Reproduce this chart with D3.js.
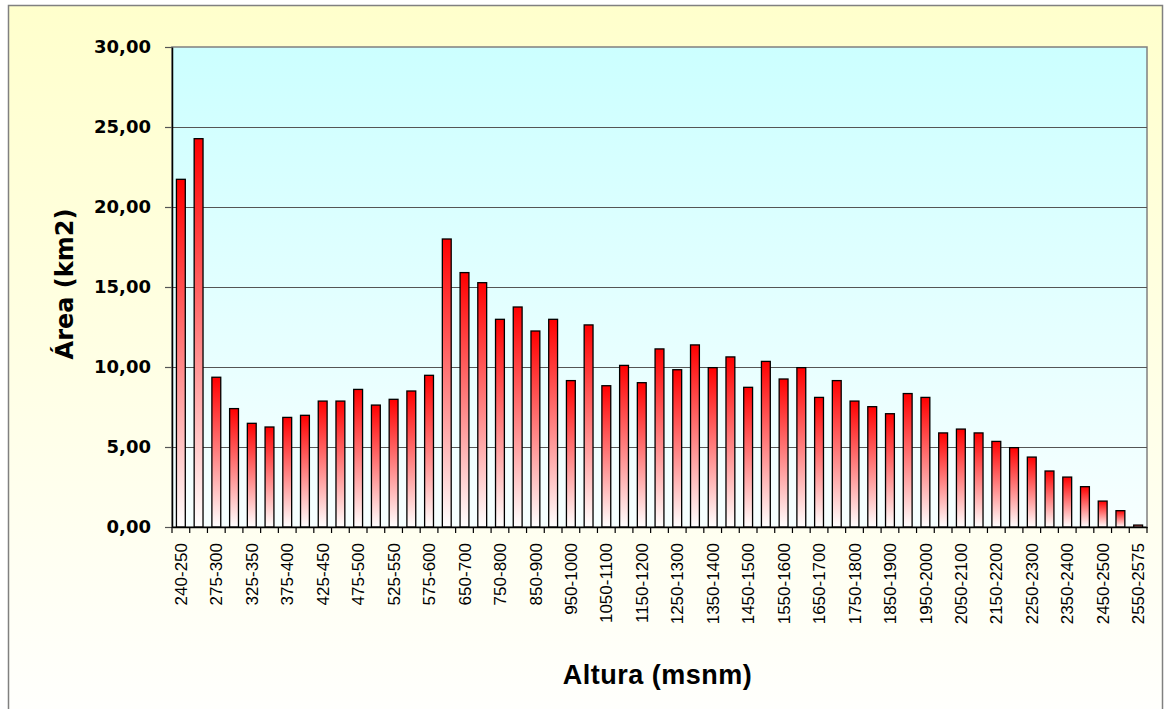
<!DOCTYPE html>
<html>
<head>
<meta charset="utf-8">
<script src="https://cdn.jsdelivr.net/npm/d3@7"></script>
<style>
  html, body { margin: 0; padding: 0; background: #ffffff; }
  svg { display: block; }
</style>
</head>
<body>
<svg id="chart" width="1166" height="709"></svg>
<script>
// ---- data ----
const categories = [
  "240-250","250-275","275-300","300-325","325-350","350-375","375-400","400-425",
  "425-450","450-475","475-500","500-525","525-550","550-575","575-600","600-650",
  "650-700","700-750","750-800","800-850","850-900","900-950","950-1000","1000-1050",
  "1050-1100","1100-1150","1150-1200","1200-1250","1250-1300","1300-1350","1350-1400",
  "1400-1450","1450-1500","1500-1550","1550-1600","1600-1650","1650-1700","1700-1750",
  "1750-1800","1800-1850","1850-1900","1900-1950","1950-2000","2000-2050","2050-2100",
  "2100-2150","2150-2200","2200-2250","2250-2300","2300-2350","2350-2400","2400-2450",
  "2450-2500","2500-2550","2550-2575"
];
const areaValues = [
  21.73, 24.27, 9.36, 7.40, 6.48, 6.25, 6.85, 6.98,
  7.87, 7.87, 8.60, 7.62, 7.98, 8.50, 9.48, 18.00,
  15.90, 15.27, 12.98, 13.75, 12.25, 12.98, 9.15, 12.63,
  8.83, 10.10, 9.02, 11.13, 9.83, 11.38, 9.96,
  10.63, 8.73, 10.35, 9.25, 9.96, 8.10, 9.15,
  7.87, 7.52, 7.08, 8.34, 8.10, 5.88, 6.12,
  5.88, 5.35, 4.96, 4.37, 3.50, 3.12, 2.52,
  1.62, 1.02, 0.12
];
const yTicks = [0, 5, 10, 15, 20, 25, 30];
const yTitle = "Área (km2)";
const xTitle = "Altura (msnm)";

// ---- layout ----
const svg = d3.select("#chart");
const plot = { left: 172, right: 1147, top: 47, bottom: 527 };

const defs = svg.append("defs");
const gOuter = defs.append("linearGradient").attr("id", "gOuter")
  .attr("x1", 0).attr("y1", 0).attr("x2", 0).attr("y2", 1);
gOuter.append("stop").attr("offset", "0%").attr("stop-color", "#FFFFCC");
gOuter.append("stop").attr("offset", "100%").attr("stop-color", "#FFFFFF");

const gPlot = defs.append("linearGradient").attr("id", "gPlot")
  .attr("x1", 0).attr("y1", 0).attr("x2", 0).attr("y2", 1);
gPlot.append("stop").attr("offset", "0%").attr("stop-color", "#CCFFFF");
gPlot.append("stop").attr("offset", "100%").attr("stop-color", "#F7FFFF");

const gBar = defs.append("linearGradient").attr("id", "gBar")
  .attr("x1", 0).attr("y1", 0).attr("x2", 0).attr("y2", 1);
gBar.append("stop").attr("offset", "0%").attr("stop-color", "#FF0000");
gBar.append("stop").attr("offset", "100%").attr("stop-color", "#FFFFFF");

// outer chart area
svg.append("rect")
  .attr("x", 8.5).attr("y", 5.5).attr("width", 1154).attr("height", 740)
  .attr("fill", "url(#gOuter)").attr("stroke", "#808080").attr("stroke-width", 1.5);

// plot area
svg.append("rect")
  .attr("x", plot.left).attr("y", plot.top)
  .attr("width", plot.right - plot.left).attr("height", plot.bottom - plot.top)
  .attr("fill", "url(#gPlot)").attr("stroke", "#808080").attr("stroke-width", 1.5);

// scales
const slot = d3.scaleBand().domain(categories).range([plot.left, plot.right]).padding(0);
const x = d3.scaleBand().domain(categories).range([plot.left, plot.right])
  .paddingInner(0.5).paddingOuter(0.25);
const y = d3.scaleLinear().domain([0, 30]).range([plot.bottom, plot.top]);

// gridlines
svg.append("g").selectAll("line")
  .data(yTicks.filter(t => t > 0 && t < 30))
  .join("line")
  .attr("x1", plot.left).attr("x2", plot.right)
  .attr("y1", d => Math.round(y(d)) + 0.5).attr("y2", d => Math.round(y(d)) + 0.5)
  .attr("stroke", "#555555").attr("stroke-width", 1.2);

// bars
svg.append("g").selectAll("rect")
  .data(categories.map((c, i) => ({ c, v: areaValues[i] })))
  .join("rect")
  .attr("x", d => x(d.c))
  .attr("y", d => y(d.v))
  .attr("width", x.bandwidth())
  .attr("height", d => y(0) - y(d.v))
  .attr("fill", "url(#gBar)")
  .attr("stroke", "#000000").attr("stroke-width", 1.3);

// y axis
const fmt = d => d3.format(".2f")(d).replace(".", ",");
const yAxis = svg.append("g")
  .attr("transform", `translate(${plot.left},0)`)
  .call(d3.axisLeft(y).tickValues(yTicks).tickFormat(fmt).tickSize(7).tickSizeOuter(0).tickPadding(14));
yAxis.select(".domain").attr("stroke", "#000").attr("stroke-width", 1.5);
yAxis.selectAll(".tick line").attr("stroke", "#555").attr("stroke-width", 1.2);
yAxis.selectAll("text")
  .attr("fill", "#000")
  .style("font-family", "'DejaVu Sans', sans-serif")
  .style("font-weight", "bold")
  .style("font-size", "18px");

// x axis: labels at every other category, ticks at slot boundaries
const xAxis = svg.append("g")
  .attr("transform", `translate(0,${plot.bottom})`)
  .call(d3.axisBottom(x)
    .tickFormat((d, i) => i % 2 === 0 ? d : "")
    .tickSize(0).tickSizeOuter(0));
xAxis.select(".domain").attr("stroke", "#000").attr("stroke-width", 1.5);
xAxis.selectAll("text")
  .attr("transform", "rotate(-90)")
  .attr("x", -16).attr("y", 0).attr("dy", "0.36em")
  .style("text-anchor", "end")
  .attr("fill", "#000")
  .style("font-family", "'Liberation Sans', Arial, sans-serif")
  .style("font-size", "17px");

const boundaries = categories.map(c => slot(c)).concat([plot.right]);
xAxis.append("g").selectAll("line")
  .data(boundaries)
  .join("line")
  .attr("x1", d => d).attr("x2", d => d)
  .attr("y1", 0).attr("y2", 6)
  .attr("stroke", "#000").attr("stroke-width", 1.2);

// titles
svg.append("text")
  .attr("x", (plot.left + plot.right) / 2 - 2)
  .attr("y", 684)
  .attr("text-anchor", "middle")
  .style("font-family", "'Liberation Sans', Arial, sans-serif")
  .style("font-weight", "bold")
  .style("font-size", "27px")
  .style("letter-spacing", "0.5px")
  .text(xTitle);

svg.append("text")
  .attr("transform", "translate(73,284) rotate(-90)")
  .attr("text-anchor", "middle")
  .style("font-family", "'DejaVu Sans', sans-serif")
  .style("font-weight", "bold")
  .style("font-size", "24px")
  .text(yTitle);
</script>
</body>
</html>
